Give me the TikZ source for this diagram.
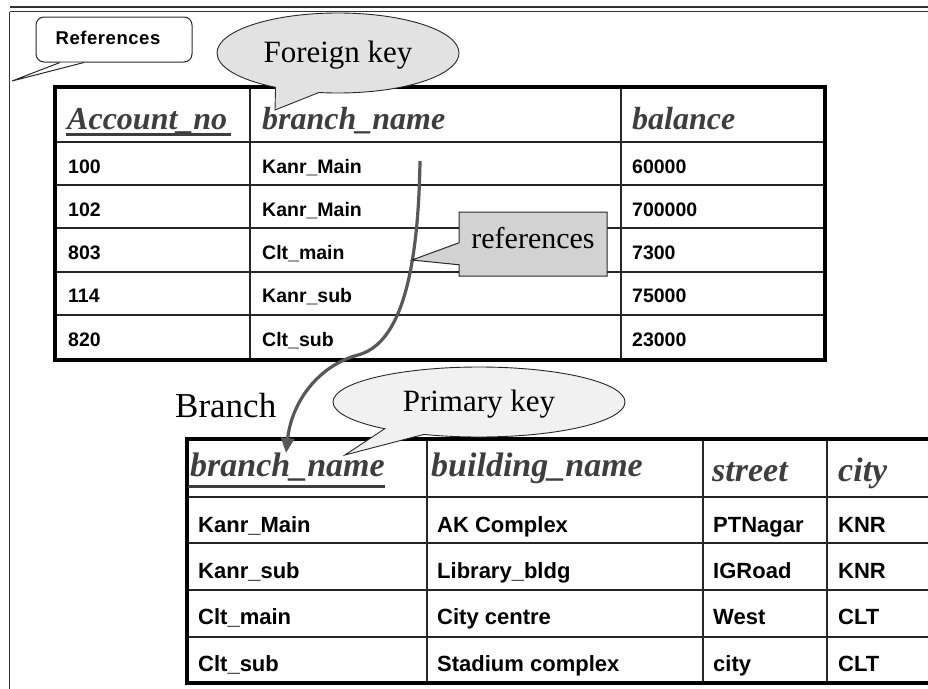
\documentclass[tikz,border=0pt]{standalone}
\usepackage{fontspec}
\setmainfont{Liberation Serif}
\setsansfont{Liberation Sans}
\usetikzlibrary{arrows.meta,shapes.callouts,shapes.geometric}
\definecolor{hdrgray}{RGB}{62,62,62}
\definecolor{linkgray}{RGB}{88,88,88}
\definecolor{fkfill}{RGB}{226,226,226}
\definecolor{pkfill}{RGB}{241,241,241}
\definecolor{reffill}{RGB}{210,210,210}
\definecolor{edgegray}{RGB}{40,40,40}
\begin{document}
\begin{tikzpicture}[x=1pt,y=-1pt,
  tblout/.style={line width=4pt, black},
  tblin/.style={line width=1.3pt, black!85},
  frameline/.style={line width=1.1pt, black!80},
  hdr/.style={anchor=base west, inner sep=0pt, text=hdrgray,
    font=\bfseries\itshape\fontsize{32}{38}\selectfont},
  hdrB/.style={hdr, font=\bfseries\itshape\fontsize{34}{40}\selectfont},
  uline/.style={line width=3pt, hdrgray},
  cellA/.style={anchor=base west, inner sep=0pt,
    font=\sffamily\bfseries\fontsize{19.5}{23}\selectfont},
  cellB/.style={anchor=base west, inner sep=0pt,
    font=\sffamily\bfseries\fontsize{22}{26}\selectfont},
  bubble/.style={ellipse callout, draw=edgegray, line width=0.9pt, inner sep=0pt,
    text depth=2pt, font=\fontsize{31}{36}\selectfont},
  link/.style={line width=3.2pt, linkgray, -{Triangle[length=15pt,width=13pt]}}
]
\useasboundingbox (0,0) rectangle (928,688);
\fill[white] (0,0) rectangle (928,688);

% page frame: double rule on top, single rule on the left
\draw[frameline] (9.5,7) -- (940,7);
\draw[frameline] (9.5,11.5) -- (940,11.5);
\draw[frameline] (9.5,11.5) -- (9.5,700);

% ---------- Account table ----------
\foreach \y in {142,185,228,272,315} \draw[tblin] (55,\y) -- (825,\y);
\foreach \x in {250,621} \draw[tblin] (\x,87) -- (\x,360);
\draw[tblout] (55,87) rectangle (825,360);

\node[hdr] (ahno) at (67,129) {Account\_no};
\node[hdr] (ahbr) at (262,129) {branch\_name};
\node[hdr] (ahbal) at (632,129) {balance};
\draw[uline] (66,134) -- (231,134);

\foreach \n/\b/\bal [count=\i] in {100/Kanr\_Main/60000,102/Kanr\_Main/700000,
    803/Clt\_main/7300,114/Kanr\_sub/75000,820/Clt\_sub/23000} {
  \pgfmathsetmacro{\yb}{173+(\i-1)*43.3}
  \node[cellA] (a\i-no) at (68,\yb) {\n};
  \node[cellA] (a\i-br) at (262,\yb) {\b};
  \node[cellA] (a\i-bal) at (632,\yb) {\bal};
}

% Foreign key callout
\node[bubble, fill=fkfill, minimum width=242pt, minimum height=80pt,
  callout absolute pointer={(275,110)}, callout pointer arc=22] (fk) at (338,53) {Foreign key};

% References note in the corner
\node[draw=edgegray, fill=white, rounded corners=8pt, line width=1pt,
  minimum width=156pt, minimum height=45pt, inner sep=0pt] (refnote) at (114,39.5) {};
\node[inner sep=0pt,
  font={\sffamily\bfseries\fontsize{18.5}{22}\selectfont\addfontfeatures{LetterSpace=3}}]
  (refnotetxt) at (108,38) {References};
\coordinate (refnotetip) at (12,81);
\filldraw[draw=edgegray, fill=white, line width=1pt]
  ([xshift=-54pt]refnote.south) -- (refnotetip) -- ([xshift=-30pt]refnote.south);

% ---------- Branch table ----------
\foreach \y in {497,543,590,637} \draw[tblin] (187,\y) -- (940,\y);
\foreach \x in {427,703,827} \draw[tblin] (\x,439) -- (\x,683);
\draw[tblout] (940,439) -- (187,439) -- (187,683) -- (940,683);

\node[hdrB] (bhbr) at (190,476) {branch\_name};
\node[hdrB] (bhbld) at (431,476) {building\_name};
\node[hdrB] (bhst) at (712,481) {street};
\node[hdrB] (bhcity) at (838,481) {city};
\draw[uline] (188,486) -- (385,486);

\foreach \br/\bld/\st/\ct [count=\i] in {Kanr\_Main/AK Complex/PTNagar/KNR,
    Kanr\_sub/Library\_bldg/IGRoad/KNR,Clt\_main/City centre/West/CLT,
    Clt\_sub/Stadium complex/city/CLT} {
  \pgfmathsetmacro{\yb}{532+(\i-1)*46.4}
  \node[cellB] (b\i-br) at (198,\yb) {\br};
  \node[cellB] (b\i-bld) at (437,\yb) {\bld};
  \node[cellB] (b\i-st) at (713,\yb) {\st};
  \node[cellB] (b\i-ct) at (838,\yb) {\ct};
}

\node[anchor=base west, inner sep=0pt, font=\fontsize{35}{40}\selectfont] (branchlbl) at (175,417) {Branch};

% Primary key callout
\node[bubble, fill=pkfill, minimum width=292pt, minimum height=70pt,
  callout absolute pointer={(345,455)}, callout pointer arc=18] (pk) at (479,402) {Primary key};

% foreign key link from Account.branch_name to Branch.branch_name
\coordinate (fkstart) at (420,161);
\coordinate (pkend) at (286,453);
\draw[link] (fkstart) .. controls (418,290) and (395,345) .. (358,355)
  .. controls (320,365) and (292,400) .. (pkend);

% references label on the link
\node[rectangle callout, draw=edgegray, fill=reffill, line width=1pt,
  minimum width=148pt, minimum height=64pt, inner sep=0pt,
  text height=20pt, text depth=12pt,
  callout absolute pointer={(412,260)}, callout pointer width=22pt,
  font=\fontsize{30}{34}\selectfont] (refs) at (533,244) {references};
\end{tikzpicture}
\end{document}
